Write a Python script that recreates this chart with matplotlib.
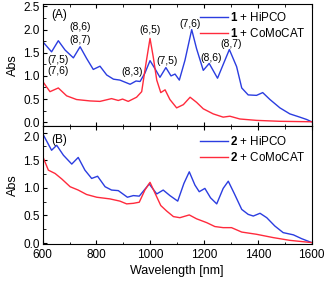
import numpy as np
import matplotlib
matplotlib.use('Agg')
import matplotlib.pyplot as plt
from matplotlib.ticker import MultipleLocator
from matplotlib.transforms import ScaledTranslation

plt.rcParams['font.family'] = ['Liberation Sans', 'DejaVu Sans']
plt.rcParams['mathtext.fontset'] = 'custom'
plt.rcParams['mathtext.bf'] = 'Liberation Sans:bold'
plt.rcParams['mathtext.rm'] = 'Liberation Sans'

# panel A: 1 + HiPCO
wl_a_hipco = [600, 633, 658, 683, 714, 739, 763, 788, 813, 838, 863, 887, 925, 947, 962, 980, 999, 1017,
              1036, 1058, 1077, 1092, 1108, 1129, 1154, 1172, 1197, 1219, 1250, 1294, 1321, 1340, 1364,
              1395, 1418, 1445, 1482, 1519, 1556, 1581, 1600]
abs_a_hipco = [1.74, 1.52, 1.76, 1.56, 1.39, 1.63, 1.38, 1.14, 1.21, 1.02, 0.93, 0.91, 0.82, 0.89, 0.88,
               1.06, 1.33, 1.16, 0.97, 1.18, 1.00, 1.04, 0.91, 1.34, 2.00, 1.59, 1.12, 1.27, 0.95, 1.57,
               1.20, 0.74, 0.59, 0.58, 0.64, 0.49, 0.31, 0.18, 0.11, 0.06, 0.01]

# panel A: 1 + CoMoCAT
wl_a_como = [600, 627, 658, 689, 726, 776, 813, 856, 881, 897, 918, 949, 968, 984, 999, 1011, 1024, 1039,
             1055, 1073, 1098, 1123, 1148, 1172, 1197, 1234, 1271, 1296, 1333, 1395, 1482, 1600]
abs_a_como = [0.88, 0.66, 0.74, 0.57, 0.49, 0.46, 0.45, 0.51, 0.47, 0.50, 0.45, 0.54, 0.66, 1.27, 1.81,
              1.41, 0.91, 0.64, 0.70, 0.49, 0.31, 0.38, 0.54, 0.43, 0.29, 0.18, 0.11, 0.13, 0.07, 0.04,
              0.02, 0.01]

# panel B: 2 + HiPCO
wl_b_hipco = [600, 633, 652, 677, 708, 732, 757, 782, 804, 832, 856, 881, 915, 937, 959, 996, 1024, 1048,
              1073, 1102, 1125, 1145, 1166, 1182, 1203, 1224, 1247, 1271, 1290, 1312, 1340, 1364, 1383,
              1408, 1433, 1463, 1494, 1532, 1563, 1600]
abs_b_hipco = [1.98, 1.68, 1.77, 1.59, 1.43, 1.55, 1.32, 1.17, 1.21, 1.02, 0.96, 0.95, 0.83, 0.86, 0.85,
               1.07, 0.89, 0.96, 0.86, 0.76, 1.08, 1.29, 1.05, 0.93, 0.99, 0.82, 0.71, 0.99, 1.12, 0.90,
               0.61, 0.52, 0.49, 0.54, 0.46, 0.31, 0.19, 0.15, 0.08, 0.01]

# panel B: 2 + CoMoCAT
wl_b_como = [600, 621, 646, 671, 702, 732, 763, 801, 850, 887, 912, 937, 959, 980, 999, 1017, 1039, 1061,
             1086, 1110, 1145, 1172, 1210, 1240, 1271, 1302, 1340, 1395, 1457, 1519, 1600]
abs_b_como = [1.57, 1.32, 1.26, 1.16, 1.02, 0.96, 0.88, 0.83, 0.80, 0.76, 0.71, 0.72, 0.74, 0.96, 1.10,
              0.91, 0.68, 0.58, 0.48, 0.46, 0.51, 0.44, 0.37, 0.30, 0.28, 0.28, 0.20, 0.16, 0.10, 0.05,
              0.01]

# chirality labels in panel A
chiral_labels = ['(7,5)', '(7,6)', '(8,6)', '(8,7)', '(8,3)', '(6,5)', '(7,5)', '(7,6)', '(8,6)', '(8,7)']
chiral_x = [656, 656, 739, 739, 931, 999, 1061, 1148, 1225, 1300]
chiral_y = [1.34, 1.11, 2.06, 1.77, 1.09, 1.99, 1.32, 2.13, 1.39, 1.68]

blue = '#2b3de0'
red = '#ff2a3c'
fs = 8.5

fig = plt.figure(figsize=(3.26, 2.83), dpi=100)
ax1 = fig.add_axes([0.131, 0.555, 0.825, 0.432])
ax2 = fig.add_axes([0.131, 0.137, 0.825, 0.418], sharex=ax1)

ax1.plot(wl_a_hipco, abs_a_hipco, color=blue, lw=1.0, label=r'$\mathbf{1}$ + HiPCO')
ax1.plot(wl_a_como, abs_a_como, color=red, lw=1.0, label=r'$\mathbf{1}$ + CoMoCAT')
ax2.plot(wl_b_hipco, abs_b_hipco, color=blue, lw=1.0, label=r'$\mathbf{2}$ + HiPCO')
ax2.plot(wl_b_como, abs_b_como, color=red, lw=1.0, label=r'$\mathbf{2}$ + CoMoCAT')

for t, x, y in zip(chiral_labels, chiral_x, chiral_y):
    ax1.text(x, y, t, ha='center', va='center', fontsize=7.5)

ax1.text(0.06, 0.91, '(A)', transform=ax1.transAxes, fontsize=8.5, ha='center', va='center')
ax2.text(0.06, 0.88, '(B)', transform=ax2.transAxes, fontsize=8.5, ha='center', va='center')

ax1.set_ylim(-0.08, 2.56)
ax2.set_ylim(-0.02, 2.12)
ax1.set_xlim(600, 1600)
ax1.yaxis.set_major_locator(MultipleLocator(0.5))
ax2.yaxis.set_major_locator(MultipleLocator(0.5))
ax1.xaxis.set_major_locator(MultipleLocator(200))

for ax in (ax1, ax2):
    ax.yaxis.set_minor_locator(MultipleLocator(0.25))
    ax.xaxis.set_minor_locator(MultipleLocator(100))
    ax.tick_params(which='both', direction='in', top=True, right=False, labelsize=fs)
    ax.tick_params(which='major', length=3, width=0.8, pad=2)
    ax.tick_params(which='minor', length=1.8, width=0.6)
    ax.set_ylabel('Abs', fontsize=9, labelpad=3)
    for s in ax.spines.values():
        s.set_linewidth(0.8)
ax2.tick_params(axis='x', which='major', pad=3.5)

ax1.legend(loc='upper right', frameon=False, fontsize=8.4, handlelength=2.4, handletextpad=0.2,
           labelspacing=0.25, borderaxespad=0.1, bbox_to_anchor=(1.0, 0.99))
ax2.legend(loc='upper right', frameon=False, fontsize=8.4, handlelength=2.4, handletextpad=0.2,
           labelspacing=0.25, borderaxespad=0.1, bbox_to_anchor=(1.0, 0.97))

plt.setp(ax1.get_xticklabels(), visible=False)
ax2.set_xlabel('Wavelength [nm]', fontsize=9, labelpad=3)
fig.align_ylabels([ax1, ax2])

# the "2.0" of panel B sits a bit lower, just under panel A's "0.0"
fig.canvas.draw()
shift = ScaledTranslation(0, -4 / 100, fig.dpi_scale_trans)
for tick in ax2.yaxis.get_major_ticks():
    if abs(tick.get_loc() - 2.0) < 1e-6:
        tick.label1.set_transform(tick.label1.get_transform() + shift)

fig.savefig('out.png', dpi=100)
